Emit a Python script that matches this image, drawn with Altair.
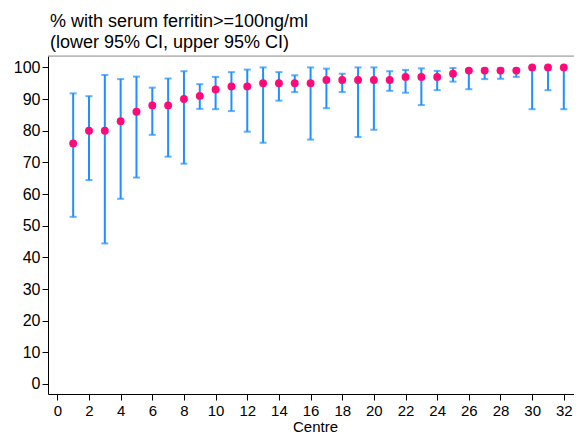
import altair as alt
import pandas as pd

centre = list(range(1, 34))
pct = [76, 80, 80, 83, 86, 88, 88, 90, 91, 93, 94, 94, 95, 95, 95, 95, 96,
       96, 96, 96, 96, 97, 97, 97, 98, 99, 99, 99, 99, 100, 100, 100, 100]
lower = [52.8, 64.4, 44.4, 58.5, 65.2, 78.7, 71.8, 69.6, 86.9, 86.8, 86.2,
         79.7, 76.2, 89.5, 92.2, 77.2, 87.1, 92.2, 78.0, 80.3, 92.6, 92.0,
         88.1, 92.8, 95.5, 93.1, 96.3, 96.4, 97.0, 86.8, 92.8, 86.8, 76.9]
upper = [91.8, 90.9, 97.6, 96.3, 97.1, 93.6, 96.5, 98.8, 94.7, 97.0, 98.5,
         99.3, 100.0, 98.5, 97.5, 100.0, 99.6, 98.0, 100.0, 100.0, 98.8,
         99.2, 99.7, 98.9, 99.8, 99.5, 99.6, 99.7, 99.6, 100.0, 100.0,
         100.0, 100.0]

x_ticks = list(range(0, 33, 2))
y_ticks = list(range(0, 101, 10))

df = pd.DataFrame({"centre": centre, "pct": pct, "lower": lower, "upper": upper})

W, H = 534, 338
FONT = "Liberation Sans"
BLUE = "#1E90FF"
PINK = "#FF0A78"

xs = alt.Scale(domain=[-0.59, 33.15], nice=False, zero=False)
ys = alt.Scale(domain=[-3.16, 103.6], nice=False, zero=False)

xax = alt.Axis(values=x_ticks, title="Centre", grid=False, labelFontSize=15,
               titleFontSize=15, titleFontWeight="normal", labelFont=FONT,
               titleFont=FONT, tickSize=6, tickColor="black", domainColor="black",
               labelColor="black", titleColor="black", labelPadding=3,
               titlePadding=1, labelFlush=False, labelOverlap=False,
               tickCount=17)
yax = alt.Axis(values=y_ticks, title=None, grid=False, labelFontSize=16,
               labelFont=FONT, tickSize=6, tickColor="black", domainColor="black",
               labelColor="black", labelPadding=2, labelFlush=False,
               labelOverlap=False, tickCount=11)

X = lambda f: alt.X(f, scale=xs, axis=xax)
Y = lambda f: alt.Y(f, scale=ys, axis=yax)

base = alt.Chart(df)

bars = base.mark_rule(color=BLUE, strokeWidth=2).encode(
    x=X("centre:Q"), y=Y("lower:Q"), y2="upper:Q")
cap_lo = base.mark_tick(color=BLUE, orient="horizontal", size=7, thickness=2).encode(
    x=X("centre:Q"), y=Y("lower:Q"))
cap_hi = base.mark_tick(color=BLUE, orient="horizontal", size=7, thickness=2).encode(
    x=X("centre:Q"), y=Y("upper:Q"))
pts = base.mark_circle(color=PINK, size=62, opacity=1).encode(
    x=X("centre:Q"), y=Y("pct:Q"))

top = alt.Chart(pd.DataFrame({"a": [0]})).mark_rule(color="#999999", strokeWidth=1.2).encode(
    x=alt.value(0), x2=alt.value(W), y=alt.value(0))

chart = alt.layer(bars, cap_lo, cap_hi, pts, top).properties(
    width=W, height=H,
    title=alt.TitleParams(
        ["% with serum ferritin>=100ng/ml", "(lower 95% CI, upper 95% CI)"],
        anchor="start", frame="group", fontSize=18, font=FONT,
        fontWeight="normal", color="black", lineHeight=21, offset=3, dx=2),
    autosize=alt.AutoSizeParams(type="none"),
    padding={"left": 40, "top": 48, "right": -8, "bottom": 40},
).configure_view(stroke=None).configure(background="white")

chart.save("out.html", embed_options={"renderer": "svg", "actions": False})
